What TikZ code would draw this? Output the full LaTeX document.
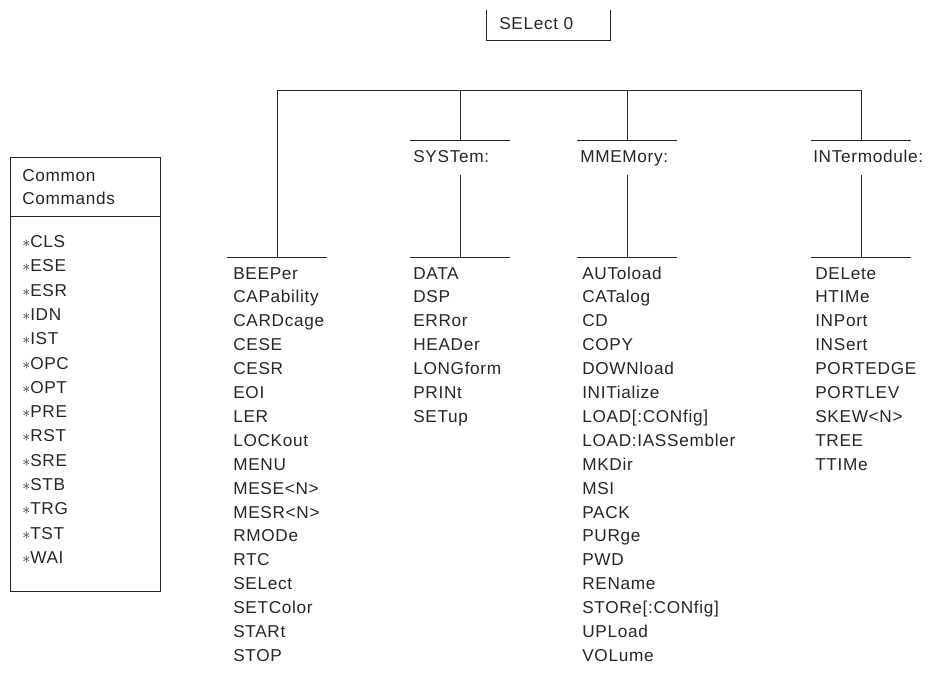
\documentclass[tikz,border=0pt]{standalone}
\usepackage{fontspec}
\setmainfont[LetterSpace=4]{Liberation Sans}
\begin{document}
\begin{tikzpicture}[x=0.75pt,y=-0.75pt,
  lbl/.style={anchor=base west, inner sep=0pt, font=\fontsize{12.9}{16}\selectfont, text=black!85},
  ln/.style={line width=0.65pt, black!85},
  boxnode/.style={inner sep=0pt, outer sep=0pt}]
\useasboundingbox (0,0) rectangle (952,684);

% SELect 0 box (open at top)
\node[boxnode, minimum width=93pt, minimum height=22.5pt] (selbox) at (548,25) {};
\draw[ln] (selbox.north west) -- (selbox.south west) -- (selbox.south east) -- (selbox.north east);
\node[lbl] (seltext) at (499,29.5) {SELect 0};

% Common Commands box
\node[boxnode, draw, line width=0.65pt, draw=black!85, minimum width=112.5pt, minimum height=325.5pt] (common) at (85,374) {};
\coordinate (divl) at (10,216);
\coordinate (divr) at (160,216);
\draw[ln] (divl) -- (divr);
\node[lbl] (ctitle1) at (22,181.5) {Common};
\node[lbl] (ctitle2) at (22,204.5) {Commands};
\foreach \t [count=\i] in {CLS,ESE,ESR,IDN,IST,OPC,OPT,PRE,RST,SRE,STB,TRG,TST,WAI}
  \node[lbl] (cc\i) at ({22},{247.5+(\i-1)*24.3}) {$\ast$\t};

% tree
\coordinate (tl) at (277,90);
\coordinate (ts) at (460,90);
\coordinate (tm) at (627,90);
\coordinate (tr) at (861,90);
\draw[ln] (tl) -- (tr);

% upper bars
\coordinate (sysup) at (460,140);
\coordinate (memup) at (627,140);
\coordinate (intup) at (861,140);
\draw[ln] (410,140) coordinate (sysupl) -- (510,140) coordinate (sysupr);
\draw[ln] (577,140) coordinate (memupl) -- (677,140) coordinate (memupr);
\draw[ln] (811,140) coordinate (intupl) -- (911,140) coordinate (intupr);
\draw[ln] (ts) -- (sysup);
\draw[ln] (tm) -- (memup);
\draw[ln] (tr) -- (intup);

% headers
\node[lbl] (sys) at (413,162.5) {SYSTem:};
\node[lbl] (mem) at (580,162.5) {MMEMory:};
\node[lbl] (int) at (813,162.5) {INTermodule:};

% lower bars
\coordinate (beeplo) at (277,257);
\coordinate (syslo) at (460,257);
\coordinate (memlo) at (627,257);
\coordinate (intlo) at (861,257);
\coordinate (sysmid) at (460,175);
\coordinate (memmid) at (627,175);
\coordinate (intmid) at (861,175);
\draw[ln] (227,257) coordinate (bl) -- (327,257) coordinate (br);
\draw[ln] (410,257) coordinate (sl) -- (510,257) coordinate (sr);
\draw[ln] (577,257) coordinate (ml) -- (677,257) coordinate (mr);
\draw[ln] (811,257) coordinate (il) -- (911,257) coordinate (ir);
\draw[ln] (tl) -- (beeplo);
\draw[ln] (sysmid) -- (syslo);
\draw[ln] (memmid) -- (memlo);
\draw[ln] (intmid) -- (intlo);

% lists
\foreach \t [count=\i] in {BEEPer,CAPability,CARDcage,CESE,CESR,EOI,LER,LOCKout,MENU,{MESE<N>},{MESR<N>},RMODe,RTC,SELect,SETColor,STARt,STOP}
  \node[lbl] (b\i) at ({233},{279+(\i-1)*23.9}) {\t};
\foreach \t [count=\i] in {DATA,DSP,ERRor,HEADer,LONGform,PRINt,SETup}
  \node[lbl] (s\i) at ({413},{279+(\i-1)*23.9}) {\t};
\foreach \t [count=\i] in {AUToload,CATalog,CD,COPY,DOWNload,INITialize,{LOAD[:CONfig]},{LOAD:IASSembler},MKDir,MSI,PACK,PURge,PWD,REName,{STORe[:CONfig]},UPLoad,VOLume}
  \node[lbl] (m\i) at ({582},{279+(\i-1)*23.9}) {\t};
\foreach \t [count=\i] in {DELete,HTIMe,INPort,INSert,PORTEDGE,PORTLEV,{SKEW<N>},TREE,TTIMe}
  \node[lbl] (n\i) at ({815},{279+(\i-1)*23.9}) {\t};
\end{tikzpicture}
\end{document}
